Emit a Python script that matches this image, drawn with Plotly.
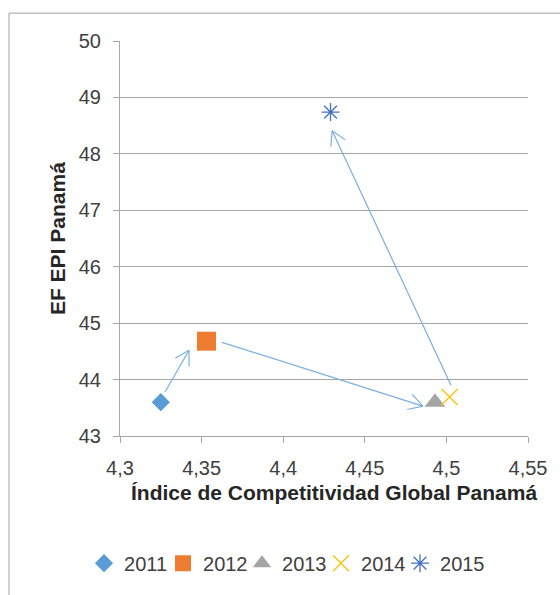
import math
import plotly.graph_objects as go

# Panamá: Global Competitiveness Index vs. Ecological Footprint EPI, 2011-2015
years = ["2011", "2012", "2013", "2014", "2015"]
gci = [4.325, 4.353, 4.493, 4.502, 4.429]
epi = [43.60, 44.68, 43.60, 43.69, 48.74]

symbols = ["diamond", "square", "triangle-up", "x-thin-open", "asterisk-open"]
colors = ["#5B9BD5", "#ED7D31", "#A5A5A5", "#FFC000", "#4472C4"]
sizes = [14, 19, 18, 16, 15]

# Year-to-year transition arrows (start -> end, in data units)
arrow_x0 = [4.3276, 4.3625, 4.5028]
arrow_y0 = [43.78, 44.66, 43.90]
arrow_x1 = [4.3423, 4.4856, 4.4300]
arrow_y1 = [44.52, 43.53, 48.41]

x_ticks = [4.3, 4.35, 4.4, 4.45, 4.5, 4.55]
x_ticktext = ["4,3", "4,35", "4,4", "4,45", "4,5", "4,55"]
y_ticks = [43, 44, 45, 46, 47, 48, 49, 50]

W, H = 560, 595
M = dict(l=120, r=32, t=41, b=157)
X_RANGE = [4.3, 4.55]
Y_RANGE = [43, 50]
FONT = "Arial, Liberation Sans, sans-serif"
GRID = "#A6A6A6"
ARROW = "#7AAEE0"

fig = go.Figure()

for i, (yr, xv, yv, sym, col, sz) in enumerate(zip(years, gci, epi, symbols, colors, sizes)):
    open_sym = sym.endswith("-open")
    last = i == len(years) - 1
    fig.add_trace(go.Scatter(
        x=[xv], y=[yv], mode="markers", name=yr,
        legendwidth=48 if last else None,
        marker=dict(symbol=sym, size=sz, color=col,
                    line=dict(color=col, width=1.3 if open_sym else 0)),
    ))

# Open-headed arrows: shaft plus two barbs, barbs sized in pixels
pw = W - M["l"] - M["r"]
ph = H - M["t"] - M["b"]
kx = pw / (X_RANGE[1] - X_RANGE[0])
ky = ph / (Y_RANGE[1] - Y_RANGE[0])
head_len, head_ang = 16, math.radians(30)

shapes = []
for x0, y0, x1, y1 in zip(arrow_x0, arrow_y0, arrow_x1, arrow_y1):
    line = dict(color=ARROW, width=1.2)
    shapes.append(dict(type="line", xref="x", yref="y", x0=x0, y0=y0, x1=x1, y1=y1, line=line))
    dx, dy = (x0 - x1) * kx, (y0 - y1) * ky
    a = math.atan2(dy, dx)
    for s in (-1, 1):
        b = a + s * head_ang
        shapes.append(dict(type="line", xref="x", yref="y", x0=x1, y0=y1,
                           x1=x1 + head_len * math.cos(b) / kx,
                           y1=y1 + head_len * math.sin(b) / ky, line=line))

# chart-area frame (left and top edges fall inside the page)
shapes.append(dict(type="rect", xref="paper", yref="paper",
                   x0=(9 - M["l"]) / pw, x1=1.3,
                   y0=-0.6, y1=1 + (M["t"] - 13) / ph,
                   line=dict(color="#A0A0A0", width=1), layer="below"))

fig.update_layout(
    width=W, height=H, margin=M,
    paper_bgcolor="white", plot_bgcolor="white",
    font=dict(family=FONT, size=20, color="#404040"),
    showlegend=True,
    legend=dict(orientation="h", x=0.413, xanchor="center", y=-0.322, yanchor="middle",
                font=dict(size=20, color="#404040"), itemwidth=30,
                entrywidth=34, entrywidthmode="pixels",
                tracegroupgap=0, bgcolor="rgba(0,0,0,0)"),
    shapes=shapes,
    annotations=[
        dict(text="<b>Índice de Competitividad Global Panamá</b>", xref="paper", yref="paper",
             x=0.5245, y=-0.1436, xanchor="center", yanchor="middle", showarrow=False,
             font=dict(size=21, color="#262626")),
        dict(text="<b>EF EPI Panamá</b>", xref="paper", yref="paper",
             x=-0.153, y=0.5, xanchor="center", yanchor="middle", showarrow=False,
             textangle=-90, font=dict(size=21, color="#262626")),
    ],
)

fig.update_xaxes(range=X_RANGE, tickvals=x_ticks, ticktext=x_ticktext,
                 showgrid=False, zeroline=False, showline=True, linecolor=GRID, linewidth=1,
                 ticks="outside", ticklen=6, tickcolor=GRID, tickfont=dict(size=20),
                 ticklabelstandoff=8)
fig.update_yaxes(range=Y_RANGE, tickvals=y_ticks,
                 showgrid=True, gridcolor=GRID, gridwidth=1, zeroline=False,
                 showline=True, linecolor=GRID, linewidth=1,
                 ticks="outside", ticklen=6, tickcolor=GRID, tickfont=dict(size=20),
                 ticklabelstandoff=8)

fig.write_html("out.html")
